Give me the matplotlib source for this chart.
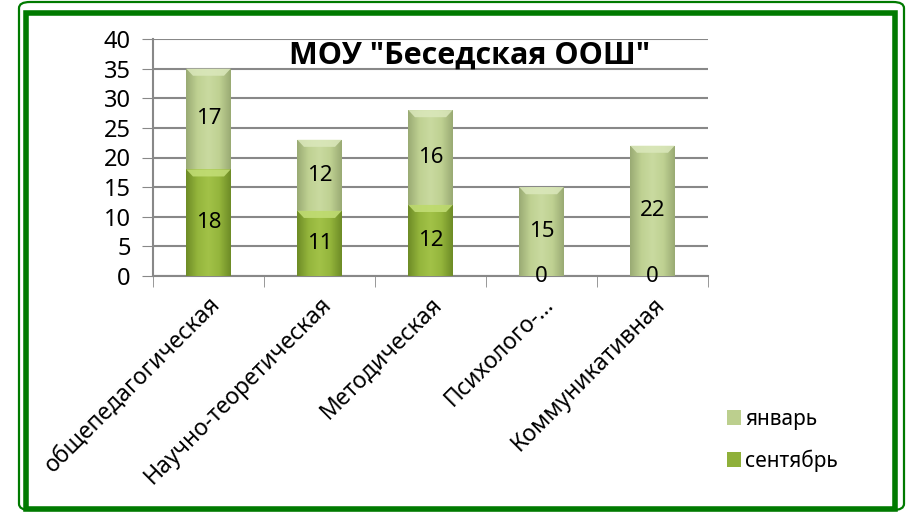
import matplotlib.pyplot as plt
import numpy as np
from matplotlib.patches import Rectangle, FancyBboxPatch, Polygon
from matplotlib.colors import LinearSegmentedColormap

plt.rcParams['font.family'] = ['Noto Sans', 'DejaVu Sans']

categories = ["общепедагогическая", "Научно-теоретическая", "Методическая",
              "Психолого-…", "Коммуникативная"]
sept = [18, 11, 12, 0, 0]
jan = [17, 12, 16, 15, 22]
title = 'МОУ "Беседская ООШ"'

fig = plt.figure(figsize=(9.12, 5.15), dpi=100)
ax = fig.add_axes([153/912, 1-276/515, 555/912, 237/515])

x = np.arange(len(categories))
w = 0.4
b1 = ax.bar(x, sept, w, color='#8fb03a', label='сентябрь', zorder=3)
b2 = ax.bar(x, jan, w, bottom=sept, color='#bccf8e', label='январь', zorder=3)

# horizontal shading + lighter top bevel, like the excel style
cm_s = LinearSegmentedColormap.from_list('s', ['#6e8c26', '#94b53c', '#a2c248', '#94b53c', '#6e8c26'])
cm_j = LinearSegmentedColormap.from_list('j', ['#9aab74', '#bfd192', '#c9daa0', '#bfd192', '#9aab74'])
grad = np.linspace(0, 1, 64).reshape(1, -1)
for bars, cm, top in ((b1, cm_s, '#c4df78'), (b2, cm_j, '#dbe8bc')):
    for r in bars:
        if r.get_height() <= 0:
            continue
        x0, y0 = r.get_x(), r.get_y()
        x1, y1 = x0 + r.get_width(), y0 + r.get_height()
        im = ax.imshow(grad, cmap=cm, aspect='auto', zorder=3.5, extent=[x0, x1, y0, y1])
        im.set_clip_path(r)
        bev = min(1.2, r.get_height() * 0.3)
        ax.add_patch(Polygon([[x0, y1], [x1, y1], [x1 - 0.06, y1 - bev], [x0 + 0.06, y1 - bev]],
                             closed=True, facecolor=top, edgecolor='none', alpha=0.85, zorder=3.6))

for i in range(len(categories)):
    ax.text(x[i], sept[i] / 2, str(sept[i]), ha='center', va='center', fontsize=16, zorder=5)
    ax.text(x[i], sept[i] + jan[i] / 2, str(jan[i]), ha='center', va='center', fontsize=16, zorder=5)

ax.set_xlim(-0.5, len(categories) - 0.5)
ax.set_ylim(0, 40)
ax.set_yticks(range(0, 41, 5))
ax.tick_params(axis='y', labelsize=17, length=8, color='#888888', pad=8)
ax.set_xticks(x)
ax.set_xticklabels(categories, rotation=45, ha='right', rotation_mode='anchor', fontsize=16.5)
ax.tick_params(axis='x', length=0, pad=12)
ax.set_xticks(np.arange(-0.5, len(categories)), minor=True)
ax.tick_params(axis='x', which='minor', length=8, color='#888888')
ax.grid(axis='y', color='#888888', linewidth=1.5, zorder=1)
for s in ['top', 'right']:
    ax.spines[s].set_visible(False)
for s in ['left', 'bottom']:
    ax.spines[s].set_color('#888888')
    ax.spines[s].set_linewidth(1.5)

ax.text(0.57, 0.93, title, transform=ax.transAxes, ha='center', va='center',
        fontsize=22, fontweight='bold', family=['Open Sans', 'DejaVu Sans'], zorder=6)

h, l = ax.get_legend_handles_labels()
fig.legend(h[::-1], l[::-1], loc='upper left', bbox_to_anchor=(708/912, 1-390/515),
           frameon=False, fontsize=15, handlelength=0.7, handleheight=0.7,
           handletextpad=0.2, labelspacing=0.95)

# green frame
fig.patches.append(FancyBboxPatch((19/912, 5/515), 885/912, 508/515,
                                  boxstyle='round,pad=0,rounding_size=0.012',
                                  transform=fig.transFigure, fill=False,
                                  edgecolor='#007a00', linewidth=1.6))
fig.patches.append(Rectangle((26/912, 6/515), 869/912, 496/515,
                             transform=fig.transFigure, fill=False,
                             edgecolor='#007a00', linewidth=4))

fig.savefig('out.png', dpi=100)
